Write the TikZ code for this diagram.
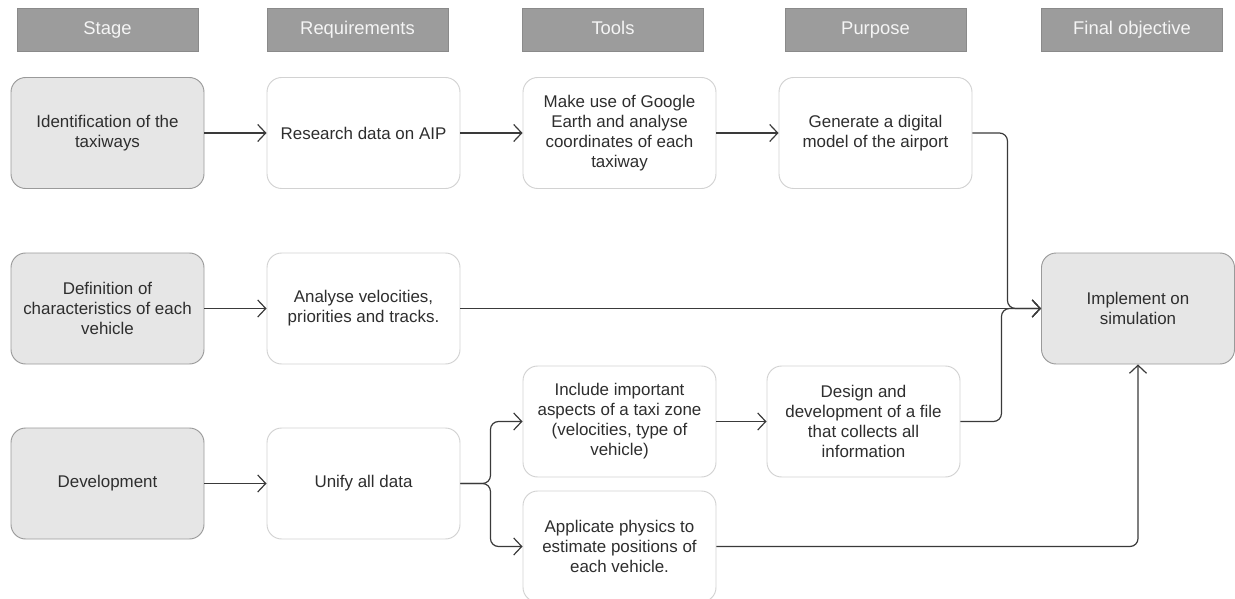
\documentclass[tikz,border=0pt]{standalone}
\usepackage{fontspec}
\setmainfont{Liberation Sans}
\usetikzlibrary{arrows.meta}
\definecolor{hdrfill}{HTML}{9C9C9C}
\definecolor{hdrdraw}{HTML}{8A8A8A}
\definecolor{stagefill}{HTML}{E6E6E6}
\definecolor{stagedraw}{HTML}{9A9A9A}
\definecolor{boxdraw}{HTML}{D2D2D2}
\definecolor{txt}{HTML}{2E2E2E}
\definecolor{conncol}{HTML}{3A3A3A}
\begin{document}
\begin{tikzpicture}[x=0.75pt,y=-0.75pt,
  hdr/.style={draw=hdrdraw, fill=hdrfill, minimum width=135.75pt, minimum height=32.25pt,
    inner sep=0pt, text height=10pt, text depth=3pt,
    text=white!96!black, font=\fontsize{13.8}{16}\selectfont, line width=0.6pt},
  box/.style={draw=boxdraw, fill=white, rounded corners=11pt, minimum width=144.75pt,
    minimum height=83.25pt, inner sep=2pt, align=center, text=txt,
    font=\fontsize{12.7}{15}\selectfont, line width=0.7pt},
  stagebox/.style={box, fill=stagefill, draw=stagedraw},
  conn/.style={draw=conncol, line width=0.9pt, rounded corners=6pt,
    -{Straight Barb[length=6pt,width=12.75pt,line width=0.9pt]}},
]
\useasboundingbox (0,0) rectangle (1235,599);
% headers
\node[hdr] (h1) at (107.5,29.5) {Stage};
\node[hdr] (h2) at (357.5,29.5) {Requirements};
\node[hdr] (h3) at (613,29.5) {Tools};
\node[hdr] (h4) at (875.5,29.5) {Purpose};
\node[hdr] (h5) at (1132,29.5) {Final objective};
% row 1
\node[stagebox] (ident) at (107.5,133) {Identification of the\\taxiways};
\node[box] (research) at (363.5,133) {Research data on AIP};
\node[box] (make) at (619.5,133) {Make use of Google\\Earth and analyse\\coordinates of each\\taxiway};
\node[box] (gen) at (875.5,133) {Generate a digital\\model of the airport};
% row 2
\node[stagebox] (defn) at (107.5,308.5) {Definition of\\characteristics of each\\vehicle};
\node[box] (analyse) at (363.5,308.5) {Analyse velocities,\\priorities and tracks.};
\node[stagebox] (impl) at (1138,308.5) {Implement on\\simulation};
% row 3
\node[stagebox] (dev) at (107.5,483.5) {Development};
\node[box] (unify) at (363.5,483.5) {Unify all data};
\node[box] (incl) at (619.5,421.5) {Include important\\aspects of a taxi zone\\(velocities, type of\\vehicle)};
\node[box] (design) at (863.5,421.5) {Design and\\development of a file\\that collects all\\information};
\node[box] (appl) at (619.5,546.5) {Applicate physics to\\estimate positions of\\each vehicle.};
% connectors
\draw[conn] (ident.east) -- (research.west);
\draw[conn] (research.east) -- (make.west);
\draw[conn] (make.east) -- (gen.west);
\draw[conn] (gen.east) -- ++(35,0) |- (impl.west);
\draw[conn] (defn.east) -- (analyse.west);
\draw[conn] (analyse.east) -- (impl.west);
\draw[conn] (dev.east) -- (unify.west);
\draw[conn] (unify.east) -- ++(30,0) |- (incl.west);
\draw[conn] (unify.east) -- ++(30,0) |- (appl.west);
\draw[conn] (incl.east) -- (design.west);
\draw[conn] (design.east) -- ++(41,0) |- (impl.west);
\draw[conn] (appl.east) -| (impl.south);
\end{tikzpicture}
\end{document}
